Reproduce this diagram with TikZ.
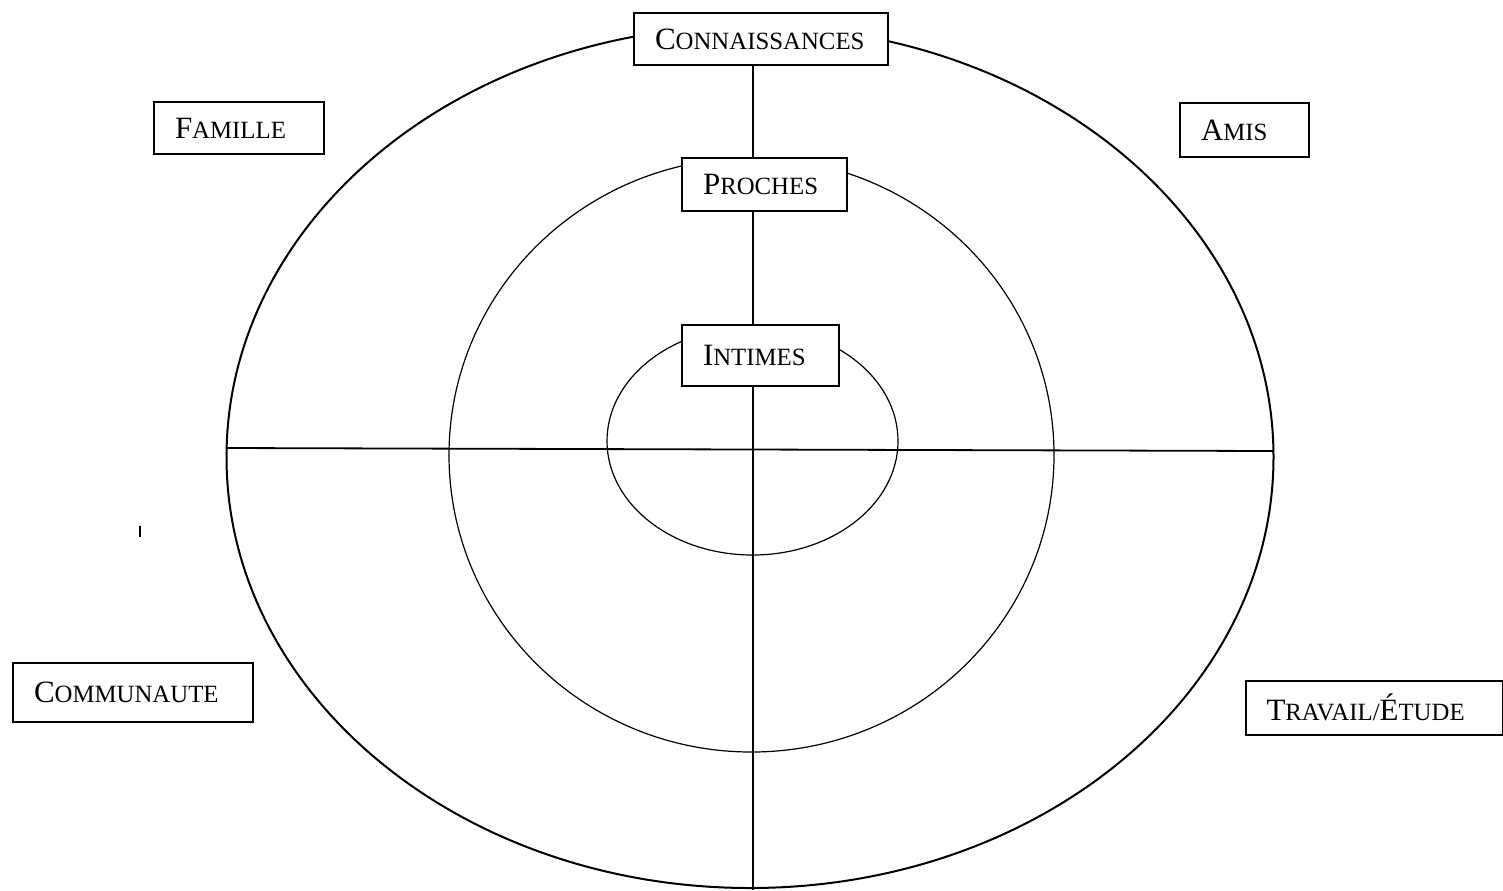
\documentclass[tikz,border=0pt]{standalone}
\usepackage{fontspec}
\setmainfont{Liberation Serif}
\usetikzlibrary{positioning,calc}

% fake small caps: big first letter, smaller capitals after
\newcommand{\bigc}[1]{{\fontsize{15.5}{18}\selectfont #1}}
\newcommand{\smc}[1]{{\fontsize{12.4}{15}\selectfont #1}}

\begin{document}
\begin{tikzpicture}[
    x=0.5pt,y=-0.5pt,
    every node/.style={font=\fontsize{15.5}{18}\selectfont},
    lbl/.style={draw,line width=1pt,fill=white,anchor=north west,align=left,inner xsep=10.5pt,inner ysep=0pt},
    ring/.style={line width=0.6pt},
    ringO/.style={line width=1pt},
    axis/.style={line width=0.9pt},
]
\useasboundingbox (0,0) rectangle (1503,890);

% rings
\draw[ringO] (750,457) ellipse [x radius=261.75pt,y radius=215.5pt];
\draw[ring]  (751.5,455) ellipse [x radius=151.25pt,y radius=148.5pt];
\draw[ring]  (752.5,441) ellipse [x radius=72.75pt,y radius=57pt];

% axes
\coordinate (hl) at (227,448);
\coordinate (hr) at (1274,451);
\coordinate (vbot) at (753,890);
\draw[axis] (hl) -- (hr);

% labels
\node[lbl,text width=106pt,minimum height=26pt] (conn) at (633,12) {\bigc{C}\smc{ONNAISSANCES}};
\node[lbl,text width=64pt,minimum height=26pt] (famille) at (153,101) {\bigc{F}\smc{AMILLE}};
\node[lbl,text width=43.5pt,minimum height=27pt] (amis) at (1179,102) {\bigc{A}\smc{MIS}};
\node[lbl,text width=61.5pt,minimum height=26.5pt] (proches) at (681,156.5) {\bigc{P}\smc{ROCHES}};
\node[lbl,text width=57.5pt,minimum height=30.5pt] (intimes) at (681,324) {\bigc{I}\smc{NTIMES}};
\node[lbl,text width=99pt,minimum height=29.5pt] (commu) at (12,662) {\bigc{C}\smc{OMMUNAUTE}};
\node[lbl,text width=107.5pt,minimum height=27pt] (travail) at (1244.5,679.5) {\bigc{T}\smc{RAVAIL/}\bigc{É}\smc{TUDE}};

\draw[axis] (conn.south -| vbot) -- (proches.north -| vbot);
\draw[axis] (proches.south -| vbot) -- (intimes.north -| vbot);
\draw[axis] (intimes.south -| vbot) -- (vbot);

% stray tick
\coordinate (tk) at (140,526);
\draw[axis] (tk) -- ++(0,11);
\end{tikzpicture}
\end{document}
